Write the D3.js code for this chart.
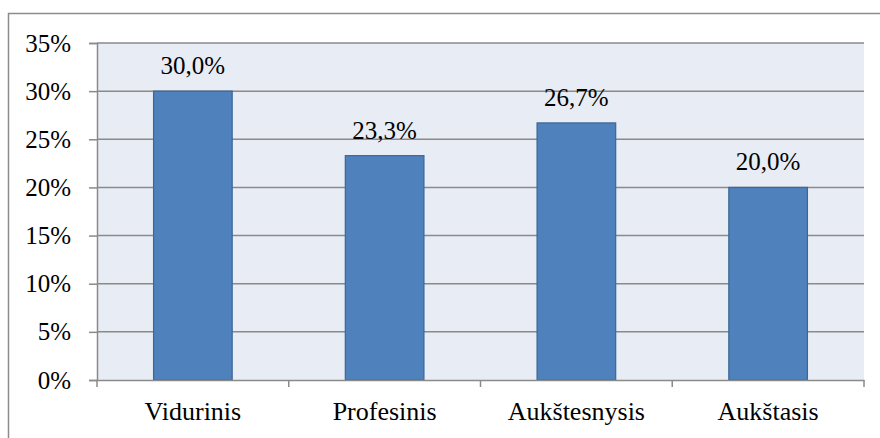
<!DOCTYPE html>
<html lang="en">
<head>
<meta charset="UTF-8">
<title>Išsilavinimas</title>
<style>
  html, body { margin: 0; padding: 0; background: #fff; }
  svg { display: block; }
  svg text { font-family: 'Liberation Serif', 'Times New Roman', serif; fill: #000; }
</style>
</head>
<body>
<svg id="chart" width="880" height="438"></svg>
<script src="https://cdn.jsdelivr.net/npm/d3@7"></script>
<script>
const categories = ["Vidurinis", "Profesinis", "Aukštesnysis", "Aukštasis"];
const values = [30.0, 23.3, 26.7, 20.0];
const yTicks = [0, 5, 10, 15, 20, 25, 30, 35];

const svg = d3.select("#chart");
const plotL = 97, plotR = 864, plotT = 43, plotB = 380;

// outer frame, runs off the right and bottom edges
svg.append("rect")
    .attr("x", 8.5).attr("y", 13.5)
    .attr("width", 900).attr("height", 460)
    .attr("fill", "none")
    .attr("stroke", "#8c8c8c")
    .attr("stroke-width", 1.5);

const x = d3.scaleBand().domain(categories).range([plotL, plotR]).paddingInner(0.59).paddingOuter(0.295);
const y = d3.scaleLinear().domain([0, 35]).range([plotB, plotT]);

svg.append("rect")
    .attr("x", plotL).attr("y", plotT)
    .attr("width", plotR - plotL).attr("height", plotB - plotT)
    .attr("fill", "#e8ecf4");

// gridlines
svg.append("g")
    .selectAll("line")
    .data(yTicks.filter(d => d > 0))
    .join("line")
    .attr("x1", plotL).attr("x2", plotR)
    .attr("y1", d => y(d)).attr("y2", d => y(d))
    .attr("stroke", "#8a8a8a")
    .attr("stroke-width", 1.5);

// bars
svg.append("g")
    .selectAll("rect")
    .data(values)
    .join("rect")
    .attr("x", (d, i) => x(categories[i]))
    .attr("y", d => y(d))
    .attr("width", x.bandwidth())
    .attr("height", d => y(0) - y(d))
    .attr("fill", "#4f81bd")
    .attr("stroke", "#3b6696")
    .attr("stroke-width", 1.2);

// value labels
svg.append("g")
    .selectAll("text")
    .data(values)
    .join("text")
    .attr("x", (d, i) => x(categories[i]) + x.bandwidth() / 2)
    .attr("y", d => y(d) - 17)
    .attr("text-anchor", "middle")
    .attr("font-size", 25)
    .text(d => d.toFixed(1).replace(".", ",") + "%");

// y axis
const yAxis = svg.append("g")
    .attr("transform", `translate(${plotL},0)`)
    .call(d3.axisLeft(y).tickValues(yTicks).tickSize(8).tickPadding(18).tickFormat(d => d + "%"))
    .attr("font-family", null)
    .attr("font-size", 25);
yAxis.select(".domain").attr("stroke", "#8a8a8a").attr("stroke-width", 1.5);
yAxis.selectAll(".tick line").attr("stroke", "#8a8a8a").attr("stroke-width", 1.5);

// x axis with ticks at category boundaries
const xAxis = svg.append("g")
    .attr("transform", `translate(0,${plotB})`)
    .call(d3.axisBottom(x).tickSize(0))
    .attr("font-family", null)
    .attr("font-size", 26);
xAxis.select(".domain").attr("stroke", "#8a8a8a").attr("stroke-width", 1.5);
xAxis.selectAll("text").attr("y", 40).attr("dy", 0);

const step = x.step();
const bounds = d3.range(categories.length + 1).map(i => plotL + i * step);
xAxis.selectAll(".bound")
    .data(bounds)
    .join("line")
    .attr("class", "bound")
    .attr("x1", d => d).attr("x2", d => d)
    .attr("y1", 0).attr("y2", 7)
    .attr("stroke", "#8a8a8a")
    .attr("stroke-width", 1.5);
</script>
</body>
</html>
